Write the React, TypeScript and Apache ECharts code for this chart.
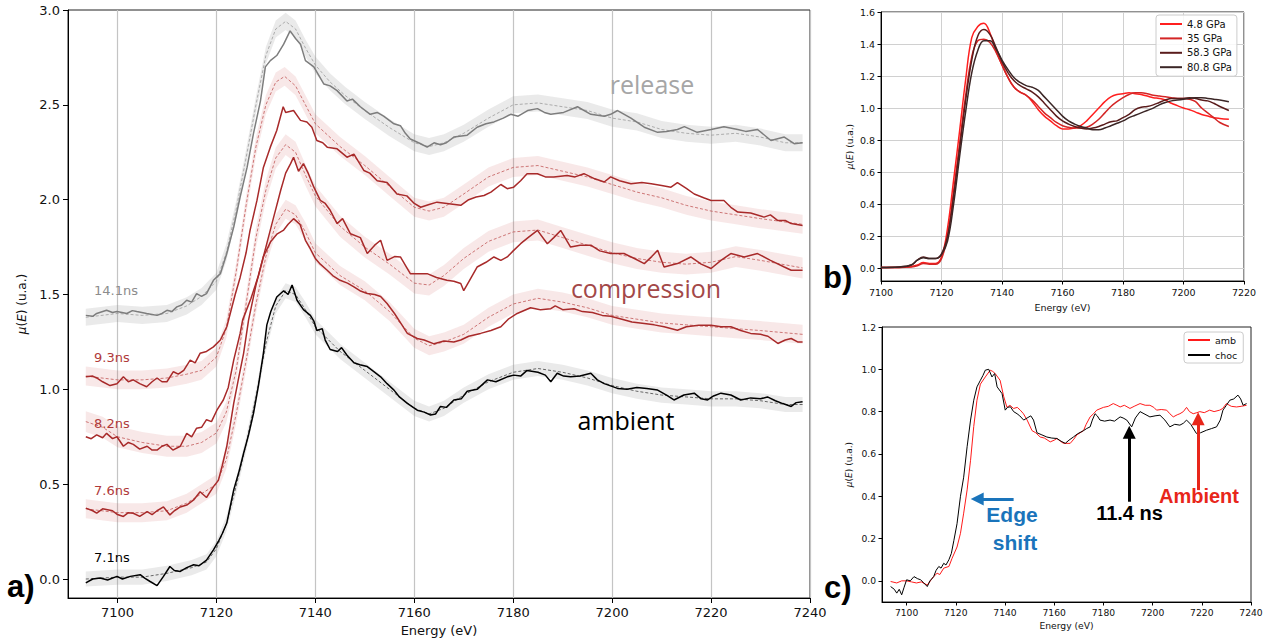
import React, { useEffect, useRef } from 'react';
import * as echarts from 'echarts';

type Pt = [number, number];

// ---------- Panel a) : time-resolved spectra (solid = measured, dashed = reference) ----------
const s141: Pt[] = [[7093.6,1.39],[7095,1.385],[7095.8,1.40],[7097.8,1.417],[7099,1.405],[7099.9,1.41],[7101.9,1.40],[7103,1.415],[7103.9,1.41],[7105.9,1.40],[7107,1.395],[7108,1.39],[7109,1.40],[7110,1.417],[7111,1.41],[7112,1.435],[7113,1.445],[7114,1.47],[7115,1.46],[7116,1.505],[7117,1.49],[7118,1.505],[7119.4,1.575],[7120.8,1.61],[7122.1,1.716],[7123.5,1.856],[7124.8,2.014],[7126.2,2.17],[7127.5,2.35],[7128.9,2.52],[7129.9,2.70],[7130.9,2.733],[7132.2,2.76],[7133.6,2.82],[7134.9,2.89],[7136,2.85],[7137,2.82],[7138,2.733],[7139.7,2.70],[7141.7,2.61],[7143,2.60],[7144.4,2.575],[7146.4,2.52],[7147.5,2.53],[7149.1,2.49],[7151.1,2.45],[7152.5,2.46],[7153.8,2.44],[7155.9,2.40],[7157.2,2.39],[7158.2,2.35],[7159.2,2.32],[7161.3,2.295],[7162.6,2.277],[7164,2.30],[7165.3,2.29],[7166.5,2.30],[7168,2.33],[7170.7,2.34],[7172.7,2.382],[7174.5,2.40],[7176.1,2.41],[7178,2.43],[7179.5,2.45],[7181,2.44],[7182.9,2.47],[7184.9,2.48],[7186.3,2.46],[7187.6,2.45],[7190.2,2.46],[7193,2.49],[7195.7,2.45],[7198.4,2.44],[7199.7,2.45],[7201.1,2.47],[7203.8,2.43],[7206.5,2.382],[7209.2,2.355],[7211,2.36],[7213.2,2.37],[7214.6,2.385],[7217.2,2.355],[7220,2.37],[7222.6,2.385],[7225.4,2.37],[7227,2.36],[7229.4,2.37],[7232.1,2.312],[7234.8,2.33],[7236.8,2.295],[7238.5,2.30]];
const d141: Pt[] = [[7093.6,1.38],[7100,1.40],[7105,1.39],[7110,1.40],[7114,1.44],[7117,1.49],[7120,1.57],[7122,1.72],[7124,1.95],[7126,2.22],[7128,2.50],[7130,2.76],[7132,2.90],[7134,2.94],[7136,2.90],[7138,2.80],[7140,2.71],[7143,2.62],[7146,2.55],[7150,2.47],[7155,2.38],[7160,2.30],[7163,2.28],[7166,2.30],[7170,2.35],[7175,2.43],[7180,2.50],[7185,2.51],[7190,2.49],[7195,2.47],[7200,2.43],[7205,2.41],[7210,2.37],[7215,2.35],[7220,2.34],[7225,2.35],[7230,2.33],[7235,2.30],[7238.5,2.30]];

const s93: Pt[] = [[7093.6,1.066],[7095,1.07],[7095.8,1.06],[7097,1.04],[7098.5,1.02],[7099.9,1.03],[7101.2,1.066],[7102.2,1.04],[7103.2,1.05],[7104.5,1.03],[7105.9,1.014],[7107,1.04],[7108,1.06],[7109,1.04],[7110,1.04],[7111.3,1.093],[7112.3,1.08],[7113.4,1.10],[7114.7,1.154],[7115.7,1.14],[7116.7,1.19],[7118,1.20],[7119.4,1.224],[7120.8,1.26],[7122.1,1.33],[7122.8,1.40],[7123.8,1.50],[7124.8,1.59],[7126,1.72],[7126.8,1.838],[7128.2,1.996],[7129.5,2.17],[7130.9,2.277],[7132.2,2.365],[7133.5,2.49],[7134,2.46],[7135.6,2.47],[7137,2.418],[7138.3,2.41],[7139.3,2.382],[7140.3,2.312],[7141.5,2.30],[7142.4,2.277],[7144.4,2.268],[7146.4,2.224],[7147.8,2.24],[7149.8,2.154],[7151,2.14],[7152.5,2.10],[7154.5,2.09],[7156.5,2.03],[7158.5,2.02],[7160,1.98],[7161.3,1.96],[7163,1.975],[7164.6,1.987],[7166.6,1.98],[7169.4,1.97],[7171,2.0],[7172.5,2.014],[7174.1,2.022],[7175.5,2.04],[7177.5,2.08],[7178.8,2.058],[7180.1,2.066],[7181.5,2.10],[7182.8,2.137],[7184.9,2.137],[7186.5,2.12],[7188.2,2.12],[7190.9,2.128],[7192.5,2.12],[7194.3,2.137],[7196.5,2.11],[7198.4,2.093],[7199.7,2.12],[7201.5,2.10],[7203.8,2.084],[7206,2.09],[7207.9,2.084],[7210,2.075],[7211.9,2.066],[7213.2,2.09],[7215,2.06],[7216.6,2.03],[7218.5,2.01],[7220,1.996],[7222.6,1.996],[7224,1.96],[7225.4,1.935],[7228,1.93],[7230.7,1.908],[7232,1.92],[7233.5,1.89],[7235,1.89],[7236.2,1.874],[7238.5,1.864]];
const d93: Pt[] = [[7093.6,1.07],[7100,1.05],[7105,1.05],[7110,1.06],[7114,1.08],[7117,1.10],[7120,1.17],[7122,1.32],[7124,1.62],[7126,1.97],[7128,2.28],[7130,2.50],[7132,2.62],[7133.8,2.65],[7136,2.60],[7138,2.50],[7140,2.40],[7145,2.28],[7150,2.18],[7155,2.07],[7160,1.96],[7163,1.94],[7166,1.96],[7170,2.03],[7175,2.12],[7180,2.17],[7185,2.18],[7190,2.15],[7195,2.12],[7200,2.08],[7205,2.04],[7210,2.01],[7215,1.97],[7220,1.94],[7225,1.92],[7230,1.90],[7238.5,1.87]];

const s82: Pt[] = [[7093.6,0.75],[7094.7,0.74],[7095.8,0.76],[7097,0.745],[7097.8,0.768],[7099,0.74],[7099.9,0.75],[7101.2,0.70],[7102.2,0.72],[7103.2,0.71],[7104.5,0.685],[7106,0.70],[7107,0.68],[7108,0.68],[7109,0.70],[7110,0.71],[7111.2,0.68],[7112.7,0.70],[7114,0.768],[7115,0.75],[7116,0.795],[7117,0.80],[7118,0.84],[7119,0.83],[7120.1,0.89],[7121.4,0.944],[7122.4,1.01],[7123.5,1.154],[7124.8,1.295],[7125.3,1.365],[7127,1.48],[7128.5,1.60],[7130,1.75],[7131.5,1.90],[7133,2.05],[7134,2.14],[7135,2.19],[7135.6,2.224],[7136.6,2.15],[7137.6,2.19],[7138.6,2.137],[7139.7,2.066],[7141,1.996],[7142,1.98],[7143,1.944],[7144.4,1.874],[7145.5,1.90],[7147.1,1.82],[7149.1,1.80],[7150.5,1.716],[7152,1.76],[7153.2,1.786],[7154.5,1.68],[7156,1.70],[7157.2,1.698],[7158.3,1.65],[7159.2,1.61],[7160.5,1.61],[7162.6,1.61],[7164.5,1.59],[7166.6,1.575],[7168,1.57],[7169.4,1.558],[7170,1.52],[7171.3,1.58],[7172.7,1.645],[7174.5,1.67],[7176.1,1.698],[7177.5,1.68],[7178.8,1.698],[7180,1.73],[7181.5,1.768],[7183,1.80],[7184.9,1.838],[7186.9,1.768],[7188.2,1.80],[7189.6,1.838],[7191.6,1.75],[7193.5,1.76],[7195.7,1.76],[7197.5,1.73],[7199.7,1.716],[7202.4,1.716],[7204.5,1.69],[7206.5,1.663],[7208,1.70],[7209.2,1.733],[7210.5,1.645],[7213.2,1.663],[7215.9,1.698],[7218,1.66],[7220,1.637],[7222,1.68],[7224,1.716],[7226.7,1.698],[7229.4,1.716],[7232,1.68],[7234.8,1.645],[7236.2,1.628],[7238.5,1.628]];
const d82: Pt[] = [[7093.6,0.83],[7097,0.80],[7100,0.75],[7105,0.72],[7110,0.70],[7114,0.70],[7117,0.72],[7120,0.77],[7122,0.88],[7124,1.10],[7126,1.45],[7128,1.80],[7130,2.05],[7132,2.22],[7134,2.29],[7136,2.25],[7138,2.13],[7140,2.02],[7145,1.86],[7150,1.75],[7155,1.66],[7160,1.56],[7163,1.55],[7166,1.60],[7170,1.69],[7175,1.78],[7180,1.83],[7185,1.84],[7190,1.80],[7195,1.76],[7200,1.72],[7205,1.69],[7210,1.67],[7215,1.66],[7220,1.67],[7225,1.70],[7230,1.68],[7238.5,1.64]];

const s76: Pt[] = [[7093.6,0.374],[7095,0.36],[7095.8,0.347],[7097,0.37],[7099,0.36],[7100,0.34],[7101.2,0.33],[7102.2,0.35],[7103.2,0.347],[7104.5,0.33],[7106,0.355],[7107,0.34],[7108,0.36],[7109.3,0.38],[7110.6,0.338],[7111.5,0.36],[7112.7,0.38],[7114,0.39],[7115.4,0.417],[7116.7,0.46],[7118,0.43],[7119.4,0.487],[7120.4,0.52],[7121.2,0.60],[7122.1,0.70],[7123.5,0.926],[7124.5,1.06],[7125.5,1.19],[7126.5,1.365],[7128,1.55],[7129.5,1.70],[7131,1.78],[7132.3,1.82],[7133.6,1.84],[7134.5,1.87],[7135.6,1.90],[7136.9,1.87],[7138,1.786],[7139,1.74],[7140,1.69],[7141,1.66],[7142.4,1.628],[7143.5,1.60],[7145,1.575],[7146.5,1.56],[7147.8,1.54],[7149,1.52],[7150.5,1.505],[7152,1.50],[7153.2,1.49],[7154.5,1.453],[7156,1.40],[7157.5,1.34],[7158.6,1.295],[7160.6,1.268],[7162,1.26],[7164,1.24],[7166,1.255],[7168,1.25],[7169.4,1.26],[7171,1.28],[7173.4,1.295],[7175.5,1.31],[7177.5,1.33],[7179,1.37],[7180.8,1.40],[7183.5,1.43],[7185.5,1.42],[7187.6,1.425],[7188.5,1.44],[7190,1.42],[7192.3,1.425],[7194,1.41],[7196,1.405],[7198,1.39],[7199.7,1.385],[7202,1.37],[7204,1.355],[7206.5,1.347],[7208.5,1.34],[7210.5,1.33],[7213.2,1.312],[7215,1.33],[7217.5,1.338],[7220,1.338],[7222,1.33],[7224,1.33],[7226,1.31],[7228,1.295],[7230,1.29],[7231.5,1.28],[7233.5,1.242],[7235,1.26],[7236.2,1.268],[7237.5,1.25],[7238.5,1.25]];
const d76: Pt[] = [[7093.6,0.37],[7100,0.35],[7105,0.35],[7110,0.36],[7114,0.40],[7117,0.45],[7120,0.50],[7122,0.63],[7124,0.87],[7126,1.15],[7128,1.45],[7130,1.70],[7132,1.87],[7134,1.95],[7136,1.92],[7138,1.83],[7140,1.72],[7145,1.60],[7150,1.52],[7155,1.41],[7160,1.27],[7163,1.23],[7166,1.25],[7170,1.29],[7175,1.38],[7180,1.45],[7185,1.48],[7190,1.46],[7195,1.43],[7200,1.39],[7205,1.37],[7210,1.35],[7215,1.34],[7220,1.33],[7225,1.32],[7230,1.31],[7238.5,1.29]];

const s71: Pt[] = [[7093.6,-0.02],[7095,0.0],[7096.5,0.005],[7098,-0.005],[7099.9,0.014],[7101,0.0],[7102.6,0.014],[7104.6,0.023],[7105.5,0.005],[7106.6,-0.013],[7108,-0.035],[7109.3,0.014],[7110.6,0.066],[7111.5,0.045],[7112.7,0.04],[7114,0.06],[7115.4,0.075],[7116.5,0.07],[7118,0.10],[7119.4,0.154],[7120.4,0.198],[7121.2,0.24],[7122.1,0.295],[7123.5,0.47],[7124.5,0.56],[7125.5,0.663],[7126.5,0.76],[7127.5,0.874],[7128.5,1.02],[7129.5,1.19],[7130.2,1.34],[7131,1.41],[7132.2,1.487],[7133.6,1.52],[7134.5,1.50],[7135.3,1.55],[7136.3,1.47],[7137.6,1.42],[7139,1.39],[7139.7,1.36],[7140.3,1.31],[7141.4,1.32],[7142,1.26],[7143,1.21],[7144.5,1.20],[7145.3,1.22],[7146.4,1.18],[7147.8,1.14],[7149,1.13],[7150.5,1.12],[7151.5,1.10],[7153.2,1.066],[7154.5,1.03],[7155.9,0.996],[7157,0.96],[7158.6,0.926],[7160.6,0.89],[7162,0.88],[7163.3,0.865],[7164.3,0.87],[7165.3,0.91],[7166.5,0.905],[7168,0.944],[7169.5,0.95],[7170.7,0.99],[7172.7,1.0],[7174.8,1.05],[7176.5,1.04],[7178.8,1.066],[7180.1,1.075],[7181.5,1.07],[7182.8,1.10],[7185,1.09],[7186.5,1.075],[7187.6,1.04],[7188.9,1.085],[7190.2,1.07],[7191.6,1.066],[7193.5,1.07],[7195.7,1.085],[7197,1.05],[7198.4,1.03],[7201.1,1.005],[7203,1.0],[7205,1.01],[7207,1.005],[7209.2,0.996],[7211,0.97],[7212.5,0.944],[7214.5,0.97],[7216.6,0.98],[7218,0.95],[7219.3,0.944],[7220.5,0.965],[7222,0.98],[7224,0.97],[7226,0.944],[7228,0.955],[7230,0.95],[7231.4,0.96],[7233,0.94],[7234.5,0.925],[7236.2,0.91],[7237.2,0.93],[7238.5,0.935]];
const d71: Pt[] = [[7093.6,0.0],[7100,0.01],[7105,0.01],[7110,0.03],[7115,0.06],[7118,0.09],[7120,0.16],[7122,0.29],[7124,0.49],[7126,0.71],[7128,0.96],[7130,1.24],[7132,1.44],[7134,1.52],[7136,1.50],[7138,1.42],[7140,1.33],[7145,1.20],[7150,1.10],[7155,1.00],[7160,0.90],[7163,0.87],[7166,0.90],[7170,0.97],[7175,1.04],[7180,1.09],[7185,1.11],[7190,1.09],[7195,1.06],[7200,1.02],[7205,0.99],[7210,0.97],[7215,0.96],[7220,0.95],[7225,0.95],[7230,0.94],[7235,0.92],[7238.5,0.92]];

// half-width of the shaded uncertainty bands (data units)
const bandHalfWidths = { t141: 0.045, t93: 0.05, t82: 0.055, t76: 0.05, t71: 0.04 };

const aTimeLabels = ['14.1ns', '9.3ns', '8.2ns', '7.6ns', '7.1ns'];
const aPhaseLabels = ['release', 'compression', 'ambient'];

const aXTicks = [7100, 7120, 7140, 7160, 7180, 7200, 7220, 7240];
const aYTicks = [0, 0.5, 1.0, 1.5, 2.0, 2.5, 3.0];

// ---------- Panel b) : static spectra at several pressures ----------
const bNames = ['4.8 GPa', '35 GPa', '58.3 GPa', '80.8 GPa'];
const b48: Pt[] = [[7100,0.005],[7106,0.005],[7110,0.01],[7112,0.02],[7114,0.035],[7116,0.03],[7118,0.03],[7120,0.07],[7122,0.25],[7124,0.55],[7126,0.86],[7128,1.18],[7130,1.44],[7132,1.51],[7134,1.53],[7136,1.47],[7138,1.36],[7140,1.27],[7142,1.19],[7144,1.13],[7146,1.10],[7148,1.08],[7150,1.04],[7152,0.99],[7154,0.95],[7156,0.92],[7158,0.89],[7160,0.87],[7162,0.87],[7164,0.875],[7166,0.89],[7168,0.92],[7170,0.96],[7172,1.00],[7174,1.04],[7176,1.07],[7178,1.085],[7180,1.09],[7182,1.095],[7184,1.09],[7186,1.085],[7188,1.075],[7190,1.065],[7192,1.06],[7194,1.05],[7196,1.03],[7198,1.015],[7200,1.0],[7202,0.99],[7204,0.975],[7206,0.96],[7208,0.95],[7210,0.94],[7212,0.935],[7215,0.93]];
const b35: Pt[] = [[7100,0.005],[7106,0.005],[7110,0.008],[7112,0.015],[7114,0.03],[7116,0.025],[7118,0.025],[7120,0.06],[7122,0.2],[7124,0.48],[7126,0.78],[7128,1.08],[7130,1.32],[7132,1.42],[7134,1.43],[7136,1.41],[7138,1.35],[7140,1.27],[7142,1.19],[7144,1.13],[7146,1.10],[7148,1.08],[7150,1.05],[7152,1.01],[7154,0.97],[7156,0.94],[7158,0.91],[7160,0.89],[7162,0.88],[7164,0.875],[7166,0.875],[7168,0.88],[7170,0.90],[7172,0.93],[7174,0.97],[7176,1.01],[7178,1.04],[7180,1.065],[7182,1.085],[7184,1.095],[7186,1.095],[7188,1.09],[7190,1.08],[7192,1.075],[7194,1.07],[7196,1.065],[7198,1.06],[7200,1.06],[7202,1.055],[7204,1.04],[7206,1.0],[7208,0.97],[7210,0.94],[7212,0.91],[7215,0.885]];
const b58: Pt[] = [[7100,0.005],[7106,0.008],[7110,0.02],[7112,0.05],[7114,0.07],[7116,0.06],[7118,0.06],[7120,0.09],[7122,0.2],[7124,0.45],[7126,0.75],[7128,1.05],[7130,1.30],[7132,1.45],[7134,1.49],[7136,1.46],[7138,1.38],[7140,1.29],[7142,1.22],[7144,1.17],[7146,1.14],[7148,1.12],[7150,1.10],[7152,1.07],[7154,1.03],[7156,0.99],[7158,0.95],[7160,0.92],[7162,0.90],[7164,0.885],[7166,0.875],[7168,0.87],[7170,0.875],[7172,0.885],[7174,0.90],[7176,0.915],[7178,0.92],[7180,0.94],[7182,0.96],[7184,0.99],[7186,1.005],[7188,1.01],[7190,1.02],[7192,1.035],[7194,1.05],[7196,1.06],[7198,1.06],[7200,1.06],[7202,1.065],[7204,1.06],[7206,1.05],[7208,1.045],[7210,1.03],[7212,1.01],[7215,0.985]];
const b80: Pt[] = [[7100,0.005],[7106,0.008],[7110,0.02],[7112,0.05],[7114,0.065],[7116,0.06],[7118,0.06],[7120,0.085],[7122,0.17],[7124,0.40],[7126,0.70],[7128,0.98],[7130,1.22],[7132,1.36],[7134,1.42],[7136,1.42],[7138,1.37],[7140,1.30],[7142,1.24],[7144,1.19],[7146,1.16],[7148,1.14],[7150,1.13],[7152,1.11],[7154,1.07],[7156,1.03],[7158,0.99],[7160,0.95],[7162,0.92],[7164,0.90],[7166,0.885],[7168,0.875],[7170,0.865],[7172,0.865],[7174,0.875],[7176,0.89],[7178,0.905],[7180,0.92],[7182,0.94],[7184,0.955],[7186,0.97],[7188,0.985],[7190,1.0],[7192,1.02],[7194,1.035],[7196,1.045],[7198,1.05],[7200,1.055],[7202,1.06],[7204,1.065],[7206,1.065],[7208,1.06],[7210,1.055],[7212,1.05],[7215,1.04]];
const bXTicks = [7100, 7120, 7140, 7160, 7180, 7200, 7220];
const bYTicks = [0, 0.2, 0.4, 0.6, 0.8, 1.0, 1.2, 1.4, 1.6];

// ---------- Panel c) : ambient vs shocked ----------
const cAmb: Pt[] = [[7093.5,-0.003],[7096,-0.01],[7098,0.0],[7100,0.0],[7102,-0.005],[7104,-0.01],[7106,-0.005],[7108.4,-0.02],[7110,0.005],[7111,0.02],[7112.4,0.036],[7113.5,0.03],[7115.1,0.06],[7117.2,0.068],[7118.5,0.107],[7120.5,0.16],[7121.9,0.225],[7123.2,0.32],[7124.6,0.43],[7126,0.57],[7127.3,0.73],[7128.6,0.854],[7130,0.93],[7132,0.964],[7134,0.996],[7135,0.99],[7136,0.98],[7138,0.948],[7139.5,0.87],[7140.8,0.82],[7142,0.83],[7143.5,0.815],[7145,0.82],[7146.2,0.807],[7147.5,0.79],[7149,0.76],[7151,0.71],[7152.5,0.70],[7154.3,0.68],[7156,0.675],[7158.4,0.657],[7160,0.665],[7161.1,0.673],[7162.5,0.66],[7163.8,0.65],[7166.5,0.65],[7168,0.67],[7169.2,0.69],[7171.9,0.71],[7173,0.74],[7174.6,0.775],[7176,0.79],[7177.3,0.807],[7180,0.82],[7182,0.825],[7184,0.838],[7185.5,0.83],[7186.8,0.822],[7188.5,0.83],[7190.8,0.815],[7192.5,0.825],[7194.9,0.838],[7197,0.83],[7198.9,0.83],[7200.5,0.82],[7201.6,0.807],[7203.5,0.81],[7205.7,0.807],[7207,0.79],[7208.4,0.775],[7210,0.785],[7211.1,0.79],[7212.5,0.80],[7213.8,0.82],[7215,0.80],[7216.5,0.79],[7218,0.795],[7219.2,0.80],[7221,0.795],[7223.2,0.807],[7225,0.80],[7227.3,0.807],[7228.5,0.815],[7230,0.838],[7232,0.825],[7234.1,0.822],[7236,0.825],[7238.2,0.83]];
const cChoc: Pt[] = [[7093.5,-0.027],[7095,-0.04],[7096,-0.058],[7097,-0.04],[7098,-0.066],[7099,-0.03],[7100,0.005],[7101.5,0.0],[7103,0.02],[7104.5,0.01],[7105.7,0.005],[7107,-0.01],[7108.4,-0.027],[7109.5,0.0],[7111,0.02],[7112,0.05],[7113.1,0.068],[7114,0.06],[7115.1,0.083],[7116,0.075],[7117.2,0.10],[7118.2,0.13],[7119.2,0.19],[7120.5,0.27],[7121.9,0.40],[7123.2,0.49],[7124.6,0.634],[7126,0.76],[7127.3,0.854],[7128.6,0.917],[7130,0.948],[7131,0.97],[7132,0.996],[7133.4,1.0],[7134.7,0.964],[7135.8,0.98],[7136.8,0.917],[7138.8,0.885],[7140.1,0.807],[7141,0.82],[7142.2,0.823],[7143.5,0.80],[7144.9,0.79],[7146,0.78],[7147.6,0.76],[7149,0.77],[7150.5,0.78],[7151.6,0.76],[7153,0.70],[7155,0.69],[7157,0.68],[7159,0.675],[7161.1,0.673],[7162.8,0.66],[7164.5,0.65],[7166,0.665],[7167.8,0.68],[7169.5,0.695],[7171.9,0.71],[7173.2,0.72],[7174.6,0.728],[7175.5,0.76],[7176.6,0.79],[7177.5,0.78],[7178.6,0.76],[7180.5,0.755],[7182.7,0.76],[7184.5,0.755],[7186.8,0.775],[7188,0.77],[7189.5,0.76],[7191.5,0.728],[7193,0.77],[7194.9,0.80],[7196.5,0.79],[7198.9,0.775],[7201,0.78],[7203,0.783],[7205,0.76],[7207,0.728],[7209,0.74],[7211.1,0.736],[7212.5,0.745],[7213.8,0.76],[7215.5,0.74],[7217.8,0.697],[7219.5,0.70],[7221.9,0.712],[7224,0.72],[7226,0.728],[7227.5,0.76],[7228.6,0.807],[7230,0.83],[7231.4,0.854],[7233,0.86],[7234.7,0.878],[7235.8,0.86],[7236.8,0.83],[7238.2,0.838]];
const cNames = ['amb', 'choc'];
const cXTicks = [7100, 7120, 7140, 7160, 7180, 7200, 7220, 7240];
const cYTicks = [0, 0.2, 0.4, 0.6, 0.8, 1.0, 1.2];
// annotation arrows in panel c: [x0, y0, x1, y1] in data units (tail -> tip)
const cArrowEdge = [7143.5, 0.387, 7128.7, 0.387];
const cArrowShock = [7190.5, 0.374, 7190.5, 0.703];
const cArrowAmb = [7218.5, 0.429, 7218.5, 0.766];
const cAnnotTexts = ['Edge', 'shift', '11.4 ns', 'Ambient'];

const DV = '"DejaVu Sans", sans-serif';
const AR = '"Liberation Sans", Arial, sans-serif';
const OS = '"Open Sans", "Noto Sans", sans-serif';

function fmt1(v: number) {
  return (Math.round(v * 10) / 10).toFixed(1);
}
function fmt0(v: number) {
  return String(Math.round(v));
}

function buildOption() {
  const series: any[] = [];
  const curvesA = [
    { key: 't141', solid: s141, ref: d141, col: '#7d7d7d', dash: '#9c9c9c', band: 'rgba(150,150,150,0.2)' },
    { key: 't93', solid: s93, ref: d93, col: '#a82a2a', dash: '#c25858', band: 'rgba(200,80,80,0.13)' },
    { key: 't82', solid: s82, ref: d82, col: '#a82a2a', dash: '#c25858', band: 'rgba(200,80,80,0.13)' },
    { key: 't76', solid: s76, ref: d76, col: '#a82a2a', dash: '#c25858', band: 'rgba(200,80,80,0.13)' },
    { key: 't71', solid: s71, ref: d71, col: '#000000', dash: '#444444', band: 'rgba(150,150,150,0.2)' },
  ];
  const common = { xAxisIndex: 0, yAxisIndex: 0, type: 'line', symbol: 'none', silent: true, emphasis: { disabled: true } };
  curvesA.forEach((c) => {
    const hw = (bandHalfWidths as any)[c.key];
    const refData = c.ref;
    series.push({
      type: 'custom', coordinateSystem: 'cartesian2d', xAxisIndex: 0, yAxisIndex: 0,
      silent: true, z: 1, clip: true,
      encode: { x: 0, y: 1 },
      data: refData,
      renderItem: (params: any, api: any) => {
        if (params.dataIndex !== 0) return null;
        const upper = refData.map((p) => api.coord([p[0], p[1] + hw]));
        const lower = refData.slice().reverse().map((p) => api.coord([p[0], p[1] - hw]));
        return {
          type: 'polygon',
          shape: { points: upper.concat(lower) },
          style: { fill: c.band, stroke: 'none' },
        };
      },
    });
  });
  curvesA.forEach((c) => {
    series.push({
      ...common, data: c.ref, z: 2,
      lineStyle: { color: c.dash, width: 0.8, type: [3, 2] },
    });
  });
  curvesA.forEach((c) => {
    series.push({
      ...common, data: c.solid, z: 3,
      lineStyle: { color: c.col, width: 1.5 },
    });
  });

  const bCols = ['#ff1f1f', '#d42525', '#5a1c1c', '#3b2626'];
  [b48, b35, b58, b80].forEach((d, i) => {
    series.push({
      type: 'line', name: bNames[i], xAxisIndex: 1, yAxisIndex: 1, data: d, symbol: 'none', smooth: 0.4,
      silent: true, emphasis: { disabled: true }, color: bCols[i],
      lineStyle: { color: bCols[i], width: 1.5 },
    });
  });

  const cCols = ['#ff1a1a', '#000000'];
  [cAmb, cChoc].forEach((d, i) => {
    series.push({
      type: 'line', name: cNames[i], xAxisIndex: 2, yAxisIndex: 2, data: d, symbol: 'none',
      silent: true, emphasis: { disabled: true }, color: cCols[i],
      lineStyle: { color: cCols[i], width: 1 },
    });
  });
  const arrow = (a: number[], color: string) => [
    { coord: [a[0], a[1]], lineStyle: { color, width: 3, type: 'solid' }, itemStyle: { color } },
    { coord: [a[2], a[3]], itemStyle: { color } },
  ];
  series.push({
    type: 'line', xAxisIndex: 2, yAxisIndex: 2, data: [], symbol: 'none', silent: true,
    markLine: {
      silent: true, animation: false, symbol: ['none', 'triangle'], symbolSize: 13,
      label: { show: false }, emphasis: { disabled: true },
      data: [arrow(cArrowEdge, '#1a74bb'), arrow(cArrowShock, '#000000'), arrow(cArrowAmb, '#e8261a')],
    },
  });

  const axisLineStyle = { show: true, onZero: false, lineStyle: { color: '#000', width: 1 } };
  const tick = (vals: number[] | null, len: number) => ({ show: true, length: len, lineStyle: { color: '#000' }, ...(vals ? { customValues: vals } : {}) });
  const muName = '{i|μ}({i|E}) (u.a.)';

  const xAxis = [
    {
      type: 'value', gridIndex: 0, min: 7090, max: 7240,
      axisLine: axisLineStyle, axisTick: tick(aXTicks, 5),
      axisLabel: { customValues: aXTicks, fontSize: 13, color: '#111', fontFamily: DV, margin: 8, formatter: fmt0 },
      splitLine: { show: true, lineStyle: { color: '#c4c4c4', width: 1.2 } },
      name: 'Energy (eV)', nameLocation: 'middle', nameGap: 26,
      nameTextStyle: { fontSize: 13, color: '#111', fontFamily: DV },
    },
    {
      type: 'value', gridIndex: 1, min: 7100, max: 7220, interval: 20,
      axisLine: axisLineStyle, axisTick: tick(bXTicks, 3.5),
      axisLabel: { customValues: bXTicks, fontSize: 9.5, color: '#111', fontFamily: DV, margin: 6, formatter: fmt0 },
      splitLine: { show: true, lineStyle: { color: '#d0d0d0', width: 1 } },
      name: 'Energy (eV)', nameLocation: 'middle', nameGap: 21,
      nameTextStyle: { fontSize: 9.5, color: '#111', fontFamily: DV },
    },
    {
      type: 'value', gridIndex: 2, min: 7090, max: 7240,
      axisLine: axisLineStyle, axisTick: tick(cXTicks, 3.5),
      axisLabel: { customValues: cXTicks, fontSize: 9.2, color: '#111', fontFamily: DV, margin: 6, formatter: fmt0 },
      splitLine: { show: false },
      name: 'Energy (eV)', nameLocation: 'middle', nameGap: 19,
      nameTextStyle: { fontSize: 9.2, color: '#111', fontFamily: DV },
    },
  ];
  const yAxis = [
    {
      type: 'value', gridIndex: 0, min: -0.1, max: 3.0,
      axisLine: axisLineStyle, axisTick: tick(aYTicks, 5),
      axisLabel: { customValues: aYTicks, fontSize: 13, color: '#111', fontFamily: DV, margin: 8, formatter: fmt1 },
      splitLine: { show: false },
      name: muName, nameLocation: 'middle', nameGap: 35, nameRotate: 90,
      nameTextStyle: { fontSize: 12, color: '#111', fontFamily: DV, rich: { i: { fontStyle: 'italic', fontSize: 12, fontFamily: DV, color: '#111' } } },
    },
    {
      type: 'value', gridIndex: 1, min: -0.08, max: 1.6,
      axisLine: axisLineStyle, axisTick: tick(bYTicks, 3.5),
      axisLabel: { customValues: bYTicks, fontSize: 9.5, color: '#111', fontFamily: DV, margin: 6, formatter: fmt1 },
      splitLine: { show: true, lineStyle: { color: '#d0d0d0', width: 1 } },
      name: muName, nameLocation: 'middle', nameGap: 27, nameRotate: 90,
      nameTextStyle: { fontSize: 9, color: '#111', fontFamily: DV, rich: { i: { fontStyle: 'italic', fontSize: 9, fontFamily: DV, color: '#111' } } },
    },
    {
      type: 'value', gridIndex: 2, min: -0.1, max: 1.2,
      axisLine: axisLineStyle, axisTick: tick(cYTicks, 3.5),
      axisLabel: { customValues: cYTicks, fontSize: 9.2, color: '#111', fontFamily: DV, margin: 6, formatter: fmt1 },
      splitLine: { show: false },
      name: muName, nameLocation: 'middle', nameGap: 29, nameRotate: 90,
      nameTextStyle: { fontSize: 9, color: '#111', fontFamily: DV, rich: { i: { fontStyle: 'italic', fontSize: 9, fontFamily: DV, color: '#111' } } },
    },
  ];

  const gridBase = { show: true, borderColor: '#222', borderWidth: 1, backgroundColor: 'transparent', containLabel: false };
  const grid = [
    { ...gridBase, left: 68, top: 10, width: 742, height: 588 },
    { ...gridBase, left: 881, top: 12, width: 363, height: 269 },
    { ...gridBase, left: 882, top: 327, width: 369, height: 275 },
  ];

  const legendBase = {
    orient: 'vertical', itemWidth: 22, itemHeight: 2, itemGap: 5, icon: 'rect',
    backgroundColor: 'rgba(255,255,255,0.85)', borderColor: '#cccccc', borderWidth: 1, borderRadius: 3,
    selectedMode: false,
  };
  const legend = [
    { ...legendBase, data: bNames, left: 1156, top: 15, padding: [4, 5, 4, 4], itemGap: 4.4, textStyle: { fontSize: 10, color: '#111', fontFamily: DV } },
    { ...legendBase, data: cNames, left: 1184, top: 332, padding: [3, 6, 3, 4], itemGap: 5, textStyle: { fontSize: 9.5, color: '#111', fontFamily: DV } },
  ];

  const txt = (text: string, x: number, y: number, font: string, fill: string, align = 'left') => ({
    type: 'text', x, y, silent: true, z: 100,
    style: { text, font, fill, align, verticalAlign: 'middle' },
  });
  const timeYs = [290, 357, 423, 490, 557];
  const timeCols = ['#8c8c8c', '#b03a3a', '#b03a3a', '#b03a3a', '#000000'];
  const graphic = [
    txt('a)', 7, 586, `bold 31px ${AR}`, '#000'),
    txt('b)', 823, 277, `bold 31px ${AR}`, '#000'),
    txt('c)', 824, 587, `bold 31px ${AR}`, '#000'),
    ...aTimeLabels.map((t, i) => txt(t, 94, timeYs[i], `13px ${DV}`, timeCols[i])),
    txt(aPhaseLabels[0], 652, 84, `25px ${OS}`, '#a6a6a6', 'center'),
    txt(aPhaseLabels[1], 646, 288, `25px ${OS}`, '#a34848', 'center'),
    txt(aPhaseLabels[2], 626, 420, `25px ${OS}`, '#000000', 'center'),
    txt(cAnnotTexts[0], 1012, 514, `bold 21px ${AR}`, '#1a74bb', 'center'),
    txt(cAnnotTexts[1], 1015, 542, `bold 21px ${AR}`, '#1a74bb', 'center'),
    txt(cAnnotTexts[2], 1129.5, 513, `bold 20px ${AR}`, '#000000', 'center'),
    txt(cAnnotTexts[3], 1199, 496, `bold 20px ${AR}`, '#e8261a', 'center'),
  ];

  return {
    animation: false,
    backgroundColor: '#ffffff',
    grid, xAxis, yAxis, legend, series, graphic,
  };
}

export default function App() {
  const ref = useRef<HTMLDivElement>(null);
  useEffect(() => {
    if (!ref.current) return;
    const chart = echarts.init(ref.current, null, { renderer: 'svg' });
    chart.setOption(buildOption() as any);
    return () => chart.dispose();
  }, []);
  return <div ref={ref} style={{ position: 'absolute', left: 0, top: 0, width: 1270, height: 642 }} />;
}
